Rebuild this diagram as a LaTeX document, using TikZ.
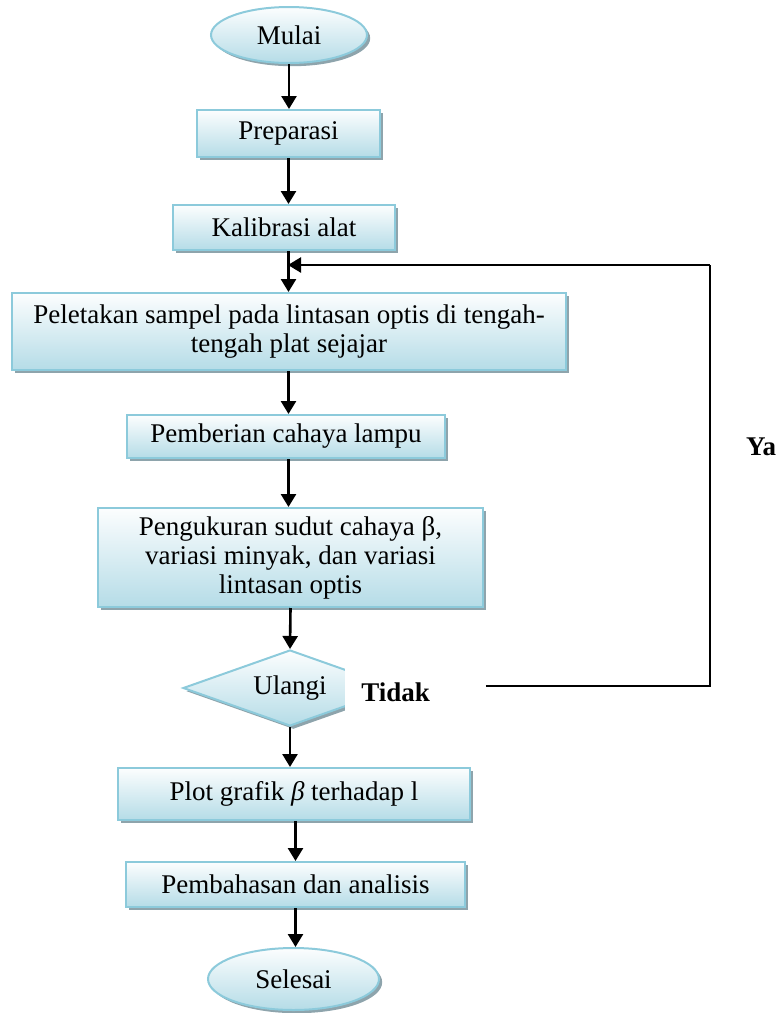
\documentclass[tikz,border=0pt]{standalone}
\usepackage{fontspec}
\setmainfont{Liberation Serif}
\usetikzlibrary{shapes.geometric,shadows,arrows.meta}
\definecolor{boxline}{RGB}{140,202,219}
\definecolor{boxfill}{RGB}{181,220,231}
\definecolor{boxshade}{RGB}{142,164,172}

\tikzset{
  flowbox/.style={draw=boxline, line width=1pt, top color=white!96!boxfill, bottom color=boxfill,
    general shadow={fill=boxshade, shadow xshift=1.6pt, shadow yshift=-1.6pt},
    align=center, inner sep=1pt, font=\fontsize{13.5}{14.5}\selectfont},
  termbox/.style={flowbox, ellipse},
  askbox/.style={flowbox, diamond, aspect=2.8, inner sep=0pt},
  flow/.style={line width=1.3pt, -{Triangle[width=7.5pt,length=6.5pt]}},
  loopline/.style={line width=1pt}
}

\begin{document}
\begin{tikzpicture}[x=0.5pt, y=-0.5pt]
    \useasboundingbox (0,0) rectangle (780,1013);

    % Start
    \node[termbox, minimum width=78pt, minimum height=28pt] (mulai) at (289,35) {Mulai};

    % Steps
    \node[flowbox, minimum width=91.5pt, minimum height=23.5pt] (prep) at (288.5,133.5) {Preparasi};
    \node[flowbox, minimum width=111pt, minimum height=22.5pt] (kal) at (284,227.5) {Kalibrasi alat};
    \node[flowbox, minimum width=277pt, minimum height=38.5pt] (letak) at (289,331.5)
        {Peletakan sampel pada lintasan optis di tengah-\\tengah plat sejajar};
    \node[flowbox, minimum width=159pt, minimum height=21.5pt] (lampu) at (286,436.5) {Pemberian cahaya lampu};
    \node[flowbox, minimum width=192.5pt, minimum height=49.5pt] (ukur) at (290.5,557.5)
        {Pengukuran sudut cahaya β,\\variasi minyak, dan variasi\\lintasan optis};

    % Decision
    \node[askbox, minimum width=107pt, minimum height=38pt] (ulangi) at (290,688) {Ulangi};
    \node[fill=white, anchor=west, inner xsep=8pt, text width=54pt, minimum height=30pt,
        font=\fontsize{13.5}{14.5}\selectfont\bfseries] (tidak) at (345,692) {Tidak};

    % Results
    \node[flowbox, minimum width=176pt, minimum height=26pt] (plot) at (294,794)
        {Plot grafik \textit{β} terhadap l};
    \node[flowbox, minimum width=169.5pt, minimum height=22.5pt] (bahas) at (295.5,884.5) {Pembahasan dan analisis};

    % End
    \node[termbox, minimum width=85.5pt, minimum height=31pt] (selesai) at (293.5,979) {Selesai};

    % Arrows
    \draw[flow] (mulai.south) -- (mulai.south |- prep.north);
    \draw[flow] (prep.south) -- (prep.south |- kal.north);
    \draw[flow] (kal.south -| prep) -- (letak.north -| prep);
    \draw[flow] (letak.south -| prep) -- (lampu.north -| prep);
    \draw[flow] (lampu.south -| prep) -- (ukur.north -| prep);
    \draw[flow] (ukur.south) -- (ulangi.north);
    \draw[flow] (ulangi.south) -- (ulangi.south |- plot.north);
    \draw[flow] (plot.south -| bahas) -- (bahas.north);
    \draw[flow] (bahas.south) -- (bahas.south |- selesai.north);

    % Loop back
    \coordinate (back) at (710,686);
    \coordinate (top) at (710,265);
    \coordinate (hit) at (288,265);
    \draw[loopline] (tidak.east |- back) -- (back) -- (top);
    \draw[flow] (top) -- (hit);
    \node[font=\fontsize{13.5}{14.5}\selectfont\bfseries] (ya) at (761,447) {Ya};
\end{tikzpicture}
\end{document}
